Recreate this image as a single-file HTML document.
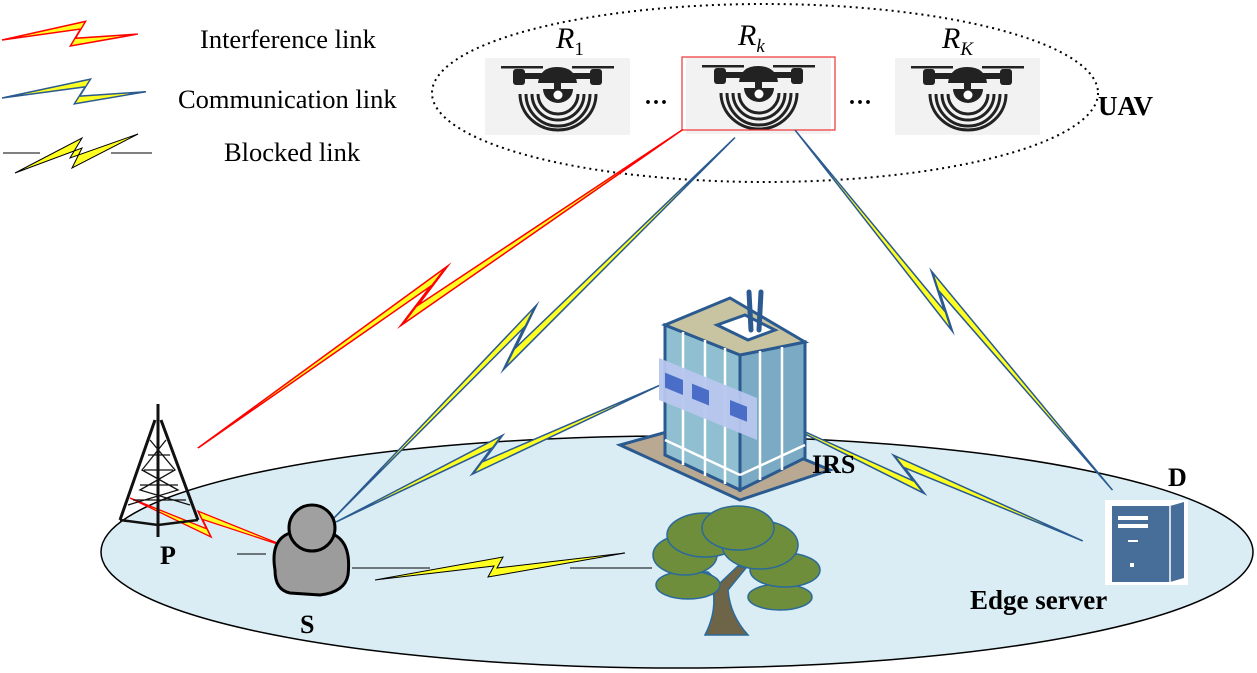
<!DOCTYPE html>
<html><head><meta charset="utf-8"><style>
html,body{margin:0;padding:0;background:#fff}
svg{display:block}
text{font-family:"Liberation Serif",serif}
</style></head><body>
<svg width="1257" height="673" viewBox="0 0 1257 673" xmlns="http://www.w3.org/2000/svg">
<defs>
<polygon id="bolt" points="0,0 53,-10 45,1 100,0 41,6 49,-5"/>
<polygon id="boltL" points="0,0 62,-10 54,1 100,0 50,6 58,-5"/>
<g id="drone">
<rect x="0" y="0" width="145" height="77" fill="#f2f2f2"/>
<rect x="16" y="8" width="42" height="2.5" fill="#222"/>
<rect x="87" y="8" width="42" height="2.5" fill="#222"/>
<rect x="28" y="11" width="12" height="16" rx="3" fill="#222"/>
<rect x="105" y="11" width="12" height="16" rx="3" fill="#222"/>
<rect x="34" y="15" width="77" height="6" fill="#222"/>
<path d="M53,25 Q55,9 72,9 Q90,9 92,25 Z" fill="#222"/>
<rect x="69" y="24" width="7" height="8" fill="#222"/>
<path d="M58,31 A15,14 0 0 0 88,31 Z" fill="#222"/>
<circle cx="73" cy="37" r="4.5" fill="#fff"/>
<g fill="none" stroke="#222" stroke-width="3">
<path d="M53,36 A20,20 0 0 0 93,36"/>
<path d="M47,36 A26,26 0 0 0 99,36"/>
<path d="M41,36 A32,32 0 0 0 105,36"/>
<path d="M35,36 A38,36 0 0 0 111,36"/>
</g>
</g>
</defs>

<!-- ground -->
<ellipse cx="677" cy="552" rx="576" ry="116" fill="#daedf4" stroke="#000" stroke-width="1.5"/>
<!-- UAV ellipse -->
<ellipse cx="765" cy="93" rx="333" ry="89" fill="none" stroke="#000" stroke-width="2" stroke-dasharray="2,4"/>

<!-- legend -->
<g stroke-linejoin="miter">
<g transform="translate(2,40) rotate(-2.5) scale(1.36,1.5)"><use href="#boltL" fill="#ffff22" stroke="#f00" stroke-width="1" vector-effect="non-scaling-stroke"/></g>
<g transform="translate(2,98) rotate(-2.5) scale(1.44,1.5)"><use href="#boltL" fill="#ffff22" stroke="#2a5a90" stroke-width="1" vector-effect="non-scaling-stroke"/></g>
<line x1="3" y1="153" x2="40" y2="153" stroke="#000" stroke-width="1"/>
<line x1="111" y1="153" x2="152" y2="153" stroke="#000" stroke-width="1"/>
<polygon points="15,173 82,138 70,158 138,134 72,168 82,148" fill="#ffff22" stroke="#000" stroke-width="1"/>
</g>
<text x="200" y="48" font-size="26.5">Interference link</text>
<text x="178" y="108" font-size="26.5">Communication link</text>
<text x="224" y="161" font-size="26.5">Blocked link</text>

<!-- drones -->
<use href="#drone" x="485" y="58"/>
<use href="#drone" x="686" y="57"/>
<rect x="682" y="57" width="153" height="73" fill="none" stroke="#e33" stroke-width="1.2"/>
<use href="#drone" x="895" y="58"/>
<text x="556" y="48" font-size="30" font-style="italic">R<tspan font-size="19" font-style="normal" dy="7">1</tspan></text>
<text x="738" y="45" font-size="30" font-style="italic">R<tspan font-size="19" dy="7">k</tspan></text>
<text x="942" y="48" font-size="30" font-style="italic">R<tspan font-size="19" dy="7">K</tspan></text>
<text x="644" y="110" font-size="24" font-weight="bold">···</text>
<text x="848" y="110" font-size="24" font-weight="bold">···</text>
<text x="1098" y="115" font-size="27" font-weight="bold">UAV</text>

<!-- links -->
<g stroke-width="1" stroke-linejoin="miter">
<g transform="translate(198,448) rotate(-33.3) scale(5.8,1.5)"><use href="#bolt" fill="#ffff22" stroke="#f00" vector-effect="non-scaling-stroke"/></g>
<g transform="translate(333,519) rotate(-43.5) scale(5.54,1.5)"><use href="#bolt" fill="#ffff22" stroke="#2a5a90" vector-effect="non-scaling-stroke"/></g>
<g transform="translate(795,130) rotate(48.6) scale(4.8,-1.5)"><use href="#bolt" fill="#ffff22" stroke="#2a5a90" vector-effect="non-scaling-stroke"/></g>
<g transform="translate(336,522) rotate(-22.9) scale(3.52,1.5)"><use href="#bolt" fill="#ffff22" stroke="#2a5a90" vector-effect="non-scaling-stroke"/></g>
<g transform="translate(757,410) rotate(21.9) scale(3.51,-1.5)"><use href="#bolt" fill="#ffff22" stroke="#2a5a90" vector-effect="non-scaling-stroke"/></g>
<g transform="translate(130,498) rotate(17.4) scale(1.68,-1.3)"><use href="#bolt" fill="#ffff22" stroke="#f00" vector-effect="non-scaling-stroke"/></g>
</g>
<!-- blocked -->
<line x1="237" y1="554" x2="266" y2="554" stroke="#000"/>
<line x1="352" y1="568" x2="430" y2="568" stroke="#000"/>
<line x1="570" y1="568" x2="652" y2="568" stroke="#000"/>
<polygon points="375,580 503,557 497,568 625,553 488,577 494,566" fill="#ffff22" stroke="#000" stroke-width="1"/>

<!-- tower -->
<g stroke="#111" fill="none">
<line x1="158" y1="404" x2="158" y2="537" stroke-width="3"/>
<path d="M155,420 L120,520 M161,420 L198,520" stroke-width="3"/>
<path d="M120,520 L158,525 L198,520" stroke-width="2.5"/>
<path d="M150,440 L175,470 L140,490 L190,505 M166,440 L142,470 L178,490 L128,505 M148,455 L170,455 M144,470 L173,470 M140,485 L178,485 M133,500 L186,500" stroke-width="1.3"/>
</g>
<text x="160" y="564" font-size="26" font-weight="bold">P</text>

<!-- person S -->
<path d="M275,570 Q270,540 290,533 L330,533 Q352,540 348,575 Q345,592 320,595 L290,593 Q275,590 275,570 Z" fill="#9c9c9c" stroke="#000" stroke-width="3"/>
<circle cx="312" cy="528" r="23" fill="#a0a0a0" stroke="#000" stroke-width="3"/>
<text x="300" y="633" font-size="26" font-weight="bold">S</text>

<!-- building -->
<polygon points="620,445 740,500 830,470 710,420" fill="#b9a892" stroke="#2a5a90" stroke-width="3"/>
<polygon points="665,325 740,355 740,490 665,455" fill="#8fbfd0" stroke="#2a5a90" stroke-width="3"/>
<polygon points="740,355 805,342 805,458 740,490" fill="#7aaac4" stroke="#2a5a90" stroke-width="3"/>
<polygon points="665,325 730,298 805,342 740,355" fill="#c8c3a0" stroke="#2a5a90" stroke-width="3"/>
<polygon points="717,325 745,315 775,330 748,340" fill="#fff" stroke="#2a5a90" stroke-width="3"/>
<path d="M751,330 L749,292 M759,330 L761,292" stroke="#2a5a90" stroke-width="5" stroke-linecap="round"/>
<g stroke="#fff" stroke-width="2.5">
<line x1="683" y1="332" x2="683" y2="465"/><line x1="705" y1="340" x2="705" y2="476"/><line x1="725" y1="348" x2="725" y2="484"/>
<line x1="760" y1="351" x2="760" y2="480"/><line x1="782" y1="347" x2="782" y2="470"/>
<line x1="665" y1="440" x2="740" y2="475"/><line x1="740" y1="475" x2="805" y2="445"/>
</g>
<polygon points="659,358 757,398 757,440 659,400" fill="#b8c6ee" opacity="0.95"/>
<rect x="665" y="372" width="18" height="15" fill="#4a6ec8" transform="skewY(22) translate(0,-268)"/>
<rect x="692" y="383" width="17" height="15" fill="#4a6ec8" transform="skewY(22) translate(0,-279)"/>
<rect x="730" y="400" width="17" height="15" fill="#4a6ec8" transform="skewY(22) translate(0,-295)"/>
<text x="812" y="473" font-size="26" font-weight="bold">IRS</text>

<!-- tree -->
<path d="M705,635 Q718,610 712,585 L695,572 L708,572 L720,583 L738,566 L746,568 L728,590 Q730,615 748,635 Z" fill="#6e6448" stroke="#2a6a9a" stroke-width="1.5"/>
<g fill="#6f8e3c" stroke="#2a6a9a" stroke-width="1.5">
<ellipse cx="688" cy="585" rx="32" ry="14"/>
<ellipse cx="780" cy="597" rx="32" ry="13"/>
<ellipse cx="785" cy="570" rx="35" ry="17"/>
<ellipse cx="685" cy="555" rx="32" ry="20"/>
<ellipse cx="705" cy="535" rx="38" ry="22"/>
<ellipse cx="760" cy="545" rx="38" ry="24"/>
<ellipse cx="738" cy="528" rx="36" ry="22"/>
</g>

<!-- server -->
<rect x="1105" y="500" width="83" height="85" fill="#fff"/>
<polygon points="1112,506 1170,506 1184,502 1184,578 1170,582 1112,582" fill="#476e99"/>
<line x1="1170" y1="506" x2="1170" y2="582" stroke="#fff" stroke-width="1.5"/>
<rect x="1118" y="516" width="30" height="4" fill="#fff"/>
<rect x="1118" y="524" width="30" height="4" fill="#fff"/>
<rect x="1128" y="540" width="10" height="2" fill="#fff"/>
<rect x="1130" y="563" width="4" height="4" fill="#fff"/>
<text x="1168" y="486" font-size="26" font-weight="bold">D</text>
<text x="970" y="609" font-size="27" font-weight="bold">Edge server</text>
</svg>
</body></html>
